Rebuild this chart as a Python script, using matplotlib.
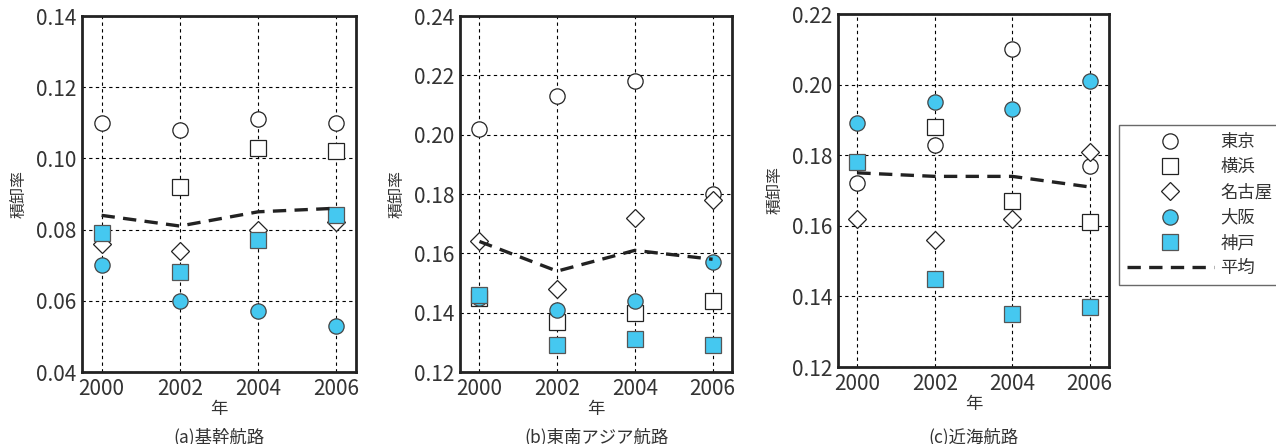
import numpy as np
import matplotlib
matplotlib.use("Agg")
import matplotlib.pyplot as plt

plt.rcParams['font.family'] = ['Noto Sans CJK JP', 'DejaVu Sans']

# データ
years = [2000, 2002, 2004, 2006]
names = ['東京', '横浜', '名古屋', '大阪', '神戸', '平均']

a_tokyo = [0.110, 0.108, 0.111, 0.110]
a_yokohama = [np.nan, 0.092, 0.103, 0.102]
a_nagoya = [0.076, 0.074, 0.080, 0.082]
a_osaka = [0.070, 0.060, 0.057, 0.053]
a_kobe = [0.079, 0.068, 0.077, 0.084]
a_mean = [0.084, 0.081, 0.085, 0.086]

b_tokyo = [0.202, 0.213, 0.218, 0.180]
b_yokohama = [0.145, 0.137, 0.140, 0.144]
b_nagoya = [0.164, 0.148, 0.172, 0.178]
b_osaka = [0.145, 0.141, 0.144, 0.157]
b_kobe = [0.146, 0.129, 0.131, 0.129]
b_mean = [0.164, 0.154, 0.161, 0.158]

c_tokyo = [0.172, 0.183, 0.210, 0.177]
c_yokohama = [np.nan, 0.188, 0.167, 0.161]
c_nagoya = [0.162, 0.156, 0.162, 0.181]
c_osaka = [0.189, 0.195, 0.193, 0.201]
c_kobe = [0.178, 0.145, 0.135, 0.137]
c_mean = [0.175, 0.174, 0.174, 0.171]

panels = [
    ('(a)基幹航路', [a_tokyo, a_yokohama, a_nagoya, a_osaka, a_kobe, a_mean],
     (0.04, 0.14), [82, 16, 356, 372]),
    ('(b)東南アジア航路', [b_tokyo, b_yokohama, b_nagoya, b_osaka, b_kobe, b_mean],
     (0.12, 0.24), [460, 16, 732, 372]),
    ('(c)近海航路', [c_tokyo, c_yokohama, c_nagoya, c_osaka, c_kobe, c_mean],
     (0.12, 0.22), [838, 14, 1109, 367]),
]

blue = '#45c8f0'
W, H = 1276, 444
fig = plt.figure(figsize=(W / 100, H / 100), dpi=100)

for title, series, ylim, (x0, y0, x1, y1) in panels:
    ax = fig.add_axes([x0 / W, 1 - y1 / H, (x1 - x0) / W, (y1 - y0) / H])
    tokyo, yoko, nagoya, osaka, kobe, mean = series
    ax.plot(years, tokyo, 'o', ms=11, mfc='white', mec='#222', mew=0.9, label=names[0], zorder=3)
    ax.plot(years, yoko, 's', ms=11, mfc='white', mec='#222', mew=0.9, label=names[1], zorder=3)
    ax.plot(years, nagoya, 'D', ms=8.8, mfc='white', mec='#222', mew=0.9, label=names[2], zorder=3)
    ax.plot(years, osaka, 'o', ms=11, mfc=blue, mec='#444', mew=0.9, label=names[3], zorder=4)
    ax.plot(years, kobe, 's', ms=11, mfc=blue, mec='#555', mew=0.9, label=names[4], zorder=4)
    ax.plot(years, mean, color='#222', lw=2.4, dashes=(4, 2.5), label=names[5], zorder=5)

    ax.set_xlim(1999.5, 2006.5)
    ax.set_ylim(*ylim)
    ax.set_xticks(years)
    ax.set_yticks(np.arange(ylim[0], ylim[1] + 0.001, 0.02))
    ax.yaxis.set_major_formatter(matplotlib.ticker.FormatStrFormatter('%.2f'))
    ax.grid(True, color='black', ls=(0, (3, 3)), lw=0.8)
    ax.tick_params(length=0, labelsize=15, labelcolor='#333', pad=4)
    for s in ax.spines.values():
        s.set_linewidth(2)
        s.set_color('#222')
    ax.set_ylabel('積卸率', fontsize=11.5, color='#333', labelpad=6)
    ax.set_xlabel('年', fontsize=12.5, color='#333', labelpad=0)
    fig.text((x0 + x1) / 2 / W, 1 - 437 / H, title, ha='center', va='center',
             fontsize=12.5, color='#333')

# 凡例 (右端にはみ出す枠)
leg = fig.legend(handles=ax.get_lines(), labels=names, loc='upper left',
                 bbox_to_anchor=(1119 / W, 1 - 125 / H), borderaxespad=0,
                 fontsize=12.5, handlelength=5.0, handletextpad=0.4,
                 borderpad=0.45, labelspacing=0.42, frameon=True,
                 fancybox=False, edgecolor='#444')
leg.get_frame().set_linewidth(1)
for t in leg.get_texts():
    t.set_color('#333')

fig.savefig('out.png', dpi=100)
